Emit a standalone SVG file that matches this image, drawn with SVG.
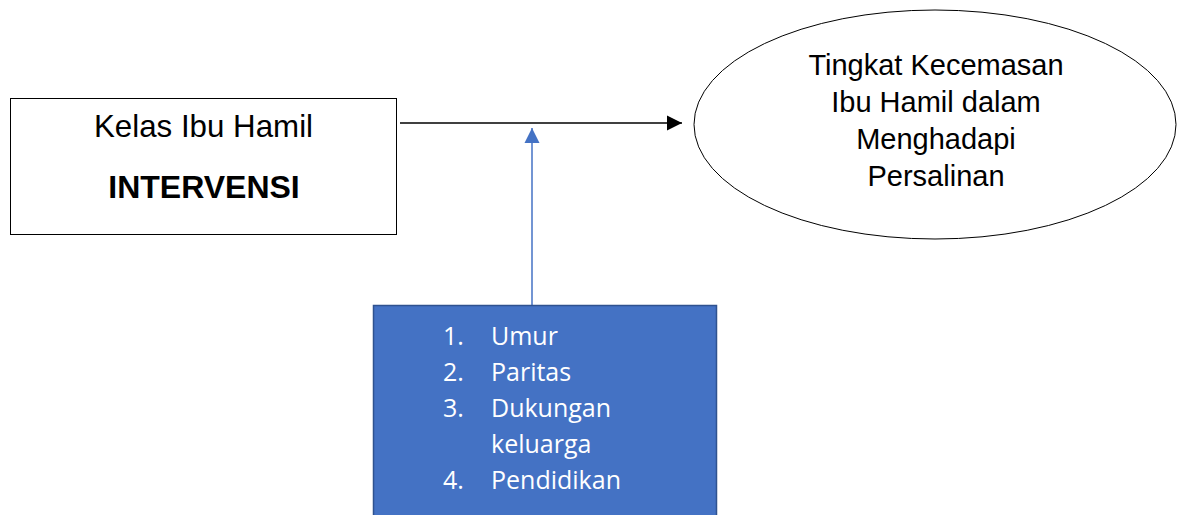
<svg xmlns="http://www.w3.org/2000/svg" width="1179" height="515" viewBox="0 0 1179 515">
<style>
.a{font-family:"Liberation Sans",Arial,sans-serif;font-size:29px;fill:#000;text-anchor:middle}
.b{font-family:"Open Sans","Noto Sans",sans-serif;font-size:25px;fill:#fff}
</style>
<defs>
<marker id="mk" viewBox="0 0 10 10" refX="10" refY="5" markerWidth="15" markerHeight="16" markerUnits="userSpaceOnUse" orient="auto"><path d="M0,0 L10,5 L0,10 Z" fill="#000"/></marker>
<marker id="mb" viewBox="0 0 10 10" refX="10" refY="5" markerWidth="15" markerHeight="16" markerUnits="userSpaceOnUse" orient="auto"><path d="M0,0 L10,5 L0,10 Z" fill="#4472C4"/></marker>
</defs>
<rect width="1179" height="515" fill="#fff"/>
<g id="connectors">
<line x1="400" y1="123" x2="682" y2="123" stroke="#000" stroke-width="1.5" marker-end="url(#mk)"/>
<line x1="532" y1="305" x2="532" y2="128" stroke="#4472C4" stroke-width="1.5" marker-end="url(#mb)"/>
</g>
<g id="intervensi">
<rect x="10.5" y="98.5" width="386" height="136" fill="#fff" stroke="#000" stroke-width="1"/>
<text class="a" x="203.5" y="137" style="font-size:31.3px">Kelas Ibu Hamil</text>
<text class="a" x="204" y="198" style="font-size:32px;font-weight:bold">INTERVENSI</text>
</g>
<g id="kecemasan">
<ellipse cx="935" cy="124.5" rx="241" ry="114.5" fill="#fff" stroke="#000" stroke-width="1"/>
<text class="a" x="936" y="75">Tingkat Kecemasan</text>
<text class="a" x="936" y="112">Ibu Hamil dalam</text>
<text class="a" x="936" y="149">Menghadapi</text>
<text class="a" x="936" y="186">Persalinan</text>
</g>
<g id="faktor">
<rect x="373.5" y="305.5" width="343" height="215" fill="#4472C4" stroke="#2F528F" stroke-width="1.5"/>
<text class="b" x="443" y="345">1.</text><text class="b" x="491" y="345">Umur</text>
<text class="b" x="443" y="381">2.</text><text class="b" x="491" y="381">Paritas</text>
<text class="b" x="443" y="417">3.</text><text class="b" x="491" y="417">Dukungan</text>
<text class="b" x="491" y="453">keluarga</text>
<text class="b" x="443" y="489">4.</text><text class="b" x="491" y="489">Pendidikan</text>
</g>
</svg>
